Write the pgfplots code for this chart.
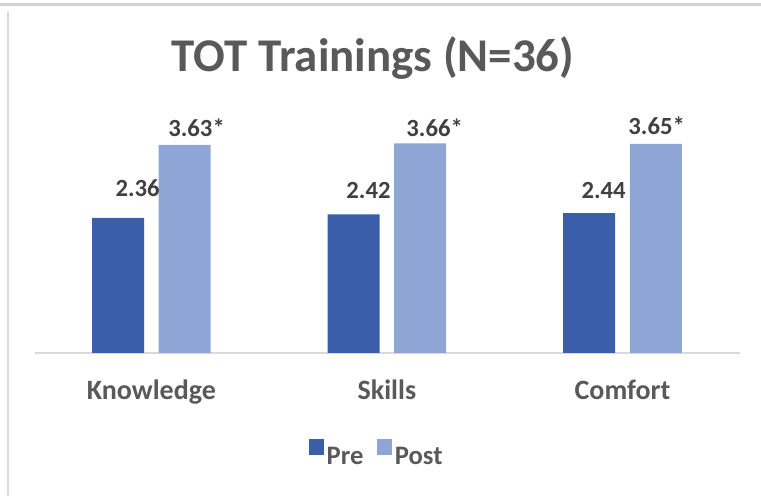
\documentclass[border=0pt]{standalone}
\usepackage{pgfplots}
\pgfplotsset{compat=1.18}
\usepackage{fontspec}
\setmainfont{Carlito}
\definecolor{cPre}{RGB}{59,94,170}
\definecolor{cPost}{RGB}{142,165,214}
\definecolor{cTitle}{RGB}{89,89,89}
\definecolor{cVal}{RGB}{64,64,64}
\definecolor{cLine}{RGB}{217,217,217}
\definecolor{cFrame}{RGB}{210,210,210}

\begin{document}
\begin{tikzpicture}[x=0.75pt,y=0.75pt]
\path[use as bounding box] (0,0) rectangle (761,496);
% screenshot frame
\draw[cFrame, line width=2.25pt] (0,491) -- (761,491);
\draw[cLine, line width=0.9pt] (8,0) -- (8,484);
\node[anchor=base, text=cTitle, font=\fontsize{35.2}{40}\bfseries\selectfont] at (373,424) {TOT Trainings (N=36)};

\begin{axis}[at={(26.25pt,107.25pt)}, anchor=south west,
    scale only axis, width=528.75pt, height=171.9pt,
    xmin=-0.494, xmax=2.499, ymin=0, ymax=4,
    clip=false,
    axis x line*=bottom, axis y line=none,
    x axis line style={draw=cLine, line width=1.1pt, -},
    xtick={0,1,2}, xticklabels={Knowledge,Skills,Comfort},
    major tick length=0pt,
    xticklabel style={anchor=base, yshift=-35.25pt, text=cTitle,
      font=\fontsize{21}{24}\bfseries\selectfont},
    ytick=\empty,
    ybar, bar width=0.2208,
    legend columns=2,
    legend style={at={(0.485,-0.442)}, anchor=center, draw=none, fill=none,
      text=cTitle, font=\fontsize{20}{24}\bfseries\selectfont,
      /tikz/every even column/.append style={column sep=8pt}},
    legend image code/.code={\fill[#1] (0pt,1.5pt) rectangle (11.5pt,13pt);},
  ]
  \addplot[fill=cPre, draw=none, bar shift=-0.1414] coordinates {(0,2.36) (1,2.42) (2,2.44)};
  \addlegendentry{Pre}
  \addplot[fill=cPost, draw=none, bar shift=0.1414] coordinates {(0,3.63) (1,3.66) (2,3.65)};
  \addlegendentry{Post}
  \begin{scope}[every node/.style={anchor=base, text=cVal, font=\fontsize{18.5}{22}\bfseries\selectfont}]
  \node at (axis cs:-0.0586,2.723) {2.36};
  \node at (axis cs:0.192,3.787) {3.63*};
  \node at (axis cs:0.922,2.705) {2.42};
  \node at (axis cs:1.2025,3.787) {3.66*};
  \node at (axis cs:1.920,2.705) {2.44};
  \node at (axis cs:2.145,3.805) {3.65*};
  \end{scope}
\end{axis}
\end{tikzpicture}
\end{document}
